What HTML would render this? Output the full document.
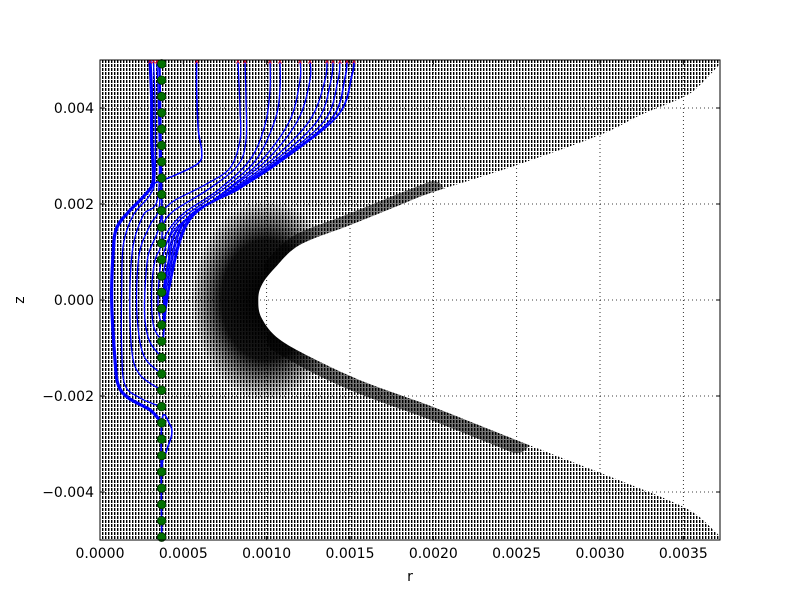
<!DOCTYPE html>
<html><head><meta charset="utf-8"><style>
body{margin:0;background:#fff;width:800px;height:600px;overflow:hidden}
text{font-family:"DejaVu Sans","Liberation Sans",sans-serif;font-size:14px;fill:#000}
</style></head><body>
<svg id="chart" width="800" height="600" xmlns="http://www.w3.org/2000/svg">
<defs>
<pattern id="hatch" width="3" height="4" patternUnits="userSpaceOnUse">
<rect x="0" y="0" width="1.4" height="3" fill="#000"/>
</pattern>
<radialGradient id="dark" cx="0.5" cy="0.5" r="0.5">
<stop offset="0" stop-color="#000" stop-opacity="1"/>
<stop offset="0.6" stop-color="#000" stop-opacity="0.9"/>
<stop offset="1" stop-color="#000" stop-opacity="0"/>
</radialGradient>
<clipPath id="plotclip"><rect x="100" y="60" width="620" height="480"/></clipPath>
</defs>
<g id="field" clip-path="url(#plotclip)"></g>
<g id="grid"></g>
<g id="lines" clip-path="url(#plotclip)"></g>
<g id="dots"></g>
<rect x="100" y="60" width="620" height="480" fill="none" stroke="#000" stroke-width="1"/>
<g id="axes"></g>
<text x="410" y="581" text-anchor="middle">r</text>
<text x="24" y="300" text-anchor="middle" transform="rotate(-90 24 300)">z</text>
</svg>
<script>
// axis ranges (units of 1e-3)
const xDomain = [0, 3.72];
const yDomain = [-5, 5];
const xTicks = [0, 0.5, 1.0, 1.5, 2.0, 2.5, 3.0, 3.5];
const xTickLabels = ["0.0000","0.0005","0.0010","0.0015","0.0020","0.0025","0.0030","0.0035"];
const yTicks = [-4, -2, 0, 2, 4];
const yTickLabels = ["\u22120.004","\u22120.002","0.000","0.002","0.004"];
// seed points (green dots)
const seedR = 0.37;
const seedZ = [-4.94,-4.6,-4.26,-3.92,-3.58,-3.24,-2.9,-2.56,-2.22,-1.88,-1.54,-1.2,-0.86,-0.52,-0.18,0.16,0.5,0.84,1.18,1.52,1.86,2.2,2.54,2.88,3.22,3.56,3.9,4.24,4.58,4.92];
// hole boundary of the arrow field (r,z)
const holeR = [3.73,3.6,3.5,3.24,3.0,2.5,2.0,1.8,1.5,1.2,1.05,0.97,0.95,0.97,1.08,1.32,1.56,1.8,2.0,2.5,3.0,3.5,3.68,3.73];
const holeZ = [4.96,4.48,4.23,3.85,3.44,2.81,2.25,1.98,1.56,1.15,0.67,0.31,0.0,-0.38,-0.83,-1.29,-1.67,-1.98,-2.23,-2.92,-3.6,-4.31,-4.79,-5.0];
// streamlines (units 1e-3)
const lineR = [
 [0.37,0.30,0.17,0.11,0.09,0.07,0.08,0.10,0.17,0.27,0.32,0.31,0.31,0.30],
 [0.37,0.24,0.15,0.13,0.13,0.14,0.20,0.30,0.33,0.33,0.32],
 [0.37,0.24,0.19,0.18,0.20,0.26,0.35,0.35,0.34],
 [0.37,0.27,0.23,0.22,0.24,0.30,0.36,0.36,0.35],
 [0.37,0.30,0.27,0.27,0.29,0.35,0.37,0.36,0.355],
 [0.37,0.32,0.31,0.33,0.37,0.37,0.36],
 [0.37,0.35,0.35,0.36,0.37],
 [0.37,0.37,0.40,0.43,0.42,0.37,0.37],
 [0.30,0.45,0.59,0.61,0.59,0.58,0.58],
 [0.372,0.45,0.63,0.78,0.84,0.84,0.828],
 [0.372,0.432,0.66,0.828,0.876,0.876,0.87],
 [0.372,0.42,0.51,0.708,0.9,0.99,1.02,1.02],
 [0.372,0.408,0.48,0.732,0.936,1.05,1.08,1.08],
 [0.378,0.408,0.456,0.744,0.972,1.14,1.2,1.2],
 [0.378,0.408,0.468,0.768,1.002,1.188,1.26,1.26],
 [0.378,0.408,0.486,0.786,1.032,1.26,1.35,1.362],
 [0.378,0.408,0.504,0.798,1.056,1.308,1.386,1.398],
 [0.378,0.408,0.516,0.81,1.074,1.35,1.428,1.44],
 [0.378,0.408,0.528,0.822,1.086,1.392,1.47,1.482],
 [0.378,0.414,0.54,0.84,1.098,1.428,1.512,1.524]
];
const lineZ = [
 [-2.56,-2.29,-2.04,-1.77,-1.25,0.0,1.04,1.5,1.83,2.19,2.5,3.33,4.17,5.0],
 [-2.23,-2.04,-1.77,-1.04,0.21,1.15,1.77,2.19,2.6,4.17,5.0],
 [-1.88,-1.56,-1.04,0.21,1.15,1.77,2.19,4.17,5.0],
 [-1.54,-1.21,-0.63,0.21,1.04,1.56,2.08,4.17,5.0],
 [-1.19,-0.88,-0.42,0.21,0.94,1.46,1.98,3.13,5.0],
 [-0.85,-0.52,0.21,0.83,1.25,2.5,5.0],
 [-0.52,-0.21,0.21,0.63,0.94],
 [-4.94,-3.54,-3.13,-2.81,-2.6,-2.56,-4.94],
 [2.4,2.6,2.85,3.1,3.54,4.38,5.0],
 [1.85,2.08,2.4,2.75,3.33,3.96,5.0],
 [1.52,1.83,2.33,2.81,3.33,4.17,5.0],
 [1.19,1.5,1.83,2.29,2.92,3.65,4.38,5.0],
 [0.83,1.25,1.67,2.29,2.92,3.75,4.38,5.0],
 [0.5,1.04,1.5,2.25,2.92,3.75,4.58,5.0],
 [0.17,0.79,1.5,2.29,2.92,3.75,4.58,5.0],
 [0.0,0.67,1.58,2.29,2.92,3.75,4.58,5.0],
 [-0.17,0.52,1.63,2.29,2.92,3.75,4.58,5.0],
 [-0.33,0.375,1.67,2.29,2.92,3.75,4.58,5.0],
 [-0.52,0.21,1.67,2.31,2.92,3.79,4.63,5.0],
 [-0.85,0.21,1.67,2.33,2.92,3.85,4.69,5.0]
];
const lineWidth = [3.2,1.3,1.3,1.3,1.3,1.3,1.3,1.6,1.6,1.3,1.3,1.3,1.3,1.3,1.3,1.3,1.3,1.3,1.6,1.8];

const X0=100,X1=720,Y0=540,Y1=60;
const sx = v => X0 + (v - xDomain[0]) / (xDomain[1]-xDomain[0]) * (X1-X0);
const sy = v => Y0 - (v - yDomain[0]) / (yDomain[1]-yDomain[0]) * (Y0-Y1);
const NS="http://www.w3.org/2000/svg";
function mk(tag, attrs, parent){const e=document.createElementNS(NS,tag);for(const k in attrs)e.setAttribute(k,attrs[k]);parent.appendChild(e);return e;}
function smooth(pts){
  let d="M"+pts[0][0].toFixed(1)+","+pts[0][1].toFixed(1);
  for(let i=0;i<pts.length-1;i++){
    const p0=pts[Math.max(0,i-1)],p1=pts[i],p2=pts[i+1],p3=pts[Math.min(pts.length-1,i+2)];
    const c1=[p1[0]+(p2[0]-p0[0])/6,p1[1]+(p2[1]-p0[1])/6];
    const c2=[p2[0]-(p3[0]-p1[0])/6,p2[1]-(p3[1]-p1[1])/6];
    d+=" C"+c1[0].toFixed(1)+","+c1[1].toFixed(1)+" "+c2[0].toFixed(1)+","+c2[1].toFixed(1)+" "+p2[0].toFixed(1)+","+p2[1].toFixed(1);
  }
  return d;
}
// field
const field=document.getElementById('field');
const base=mk('rect',{x:100,y:60,width:620,height:480,fill:'url(#hatch)'},field);


const holePts=holeR.map((r,i)=>[sx(r),sy(holeZ[i])]);
const blob=mk('ellipse',{cx:sx(holeR[12])+8,cy:sy(0),rx:75,ry:100,fill:'url(#dark)'},field);


const lowBand=mk('path',{d:smooth(holePts.slice(14,20)),fill:'none',stroke:'#000','stroke-width':26,'stroke-opacity':0.55,'stroke-linecap':'round'},field);


const upBand=mk('path',{d:smooth(holePts.slice(6,11)),fill:'none',stroke:'#000','stroke-width':22,'stroke-opacity':0.5,'stroke-linecap':'round'},field);


const hole=mk('path',{d:smooth(holePts)+" L725,545 L725,55 Z",fill:'#fff'},field);


// grid
const grid=document.getElementById('grid');
xTicks.forEach(t=>{const l=mk('line',{x1:sx(t),x2:sx(t),y1:60,y2:540,stroke:'#000','stroke-width':0.8,'stroke-dasharray':'1,3'},grid);

});
yTicks.forEach(t=>{const l=mk('line',{x1:100,x2:720,y1:sy(t),y2:sy(t),stroke:'#000','stroke-width':0.8,'stroke-dasharray':'1,3'},grid);

});
// streamlines
const lg=document.getElementById('lines');
lineR.forEach((rs,i)=>{
  const pts=rs.map((r,j)=>[sx(r),sy(lineZ[i][j])]);
  const p=mk('path',{d:smooth(pts),fill:'none',stroke:'#0000ff','stroke-width':lineWidth[i]},lg);
  
  
  const last=pts[pts.length-1];
  if(last[1]<=61){const m=mk('text',{x:last[0],y:last[1]+4,'text-anchor':'middle',style:'font-size:8px;fill:#f00'},lg);m.textContent='×';
  
  }
});
// dots
const dg=document.getElementById('dots');
seedZ.forEach(z=>{const c=mk('circle',{cx:sx(seedR),cy:sy(z),r:4.3,fill:'#007000',stroke:'#003000','stroke-width':0.8},dg);

});
// axes
const ax=document.getElementById('axes');
xTicks.forEach((t,i)=>{
  mk('line',{x1:sx(t),x2:sx(t),y1:540,y2:536,stroke:'#000'},ax);
  mk('line',{x1:sx(t),x2:sx(t),y1:60,y2:64,stroke:'#000'},ax);
  const tx=mk('text',{x:sx(t),y:558,'text-anchor':'middle'},ax);tx.textContent=xTickLabels[i];
  
  
});
yTicks.forEach((t,i)=>{
  mk('line',{x1:100,x2:104,y1:sy(t),y2:sy(t),stroke:'#000'},ax);
  mk('line',{x1:716,x2:720,y1:sy(t),y2:sy(t),stroke:'#000'},ax);
  const tx=mk('text',{x:94,y:sy(t)+5,'text-anchor':'end'},ax);tx.textContent=yTickLabels[i];
  
  
});
</script>
</body></html>
